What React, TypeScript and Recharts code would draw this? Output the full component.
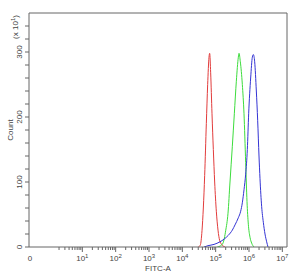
import { LineChart, Line, XAxis, YAxis, ReferenceLine } from "recharts";

// x values are log10 positions on the FITC-A axis, y values are counts (x10)
const redX = [4.48, 4.54, 4.59, 4.63, 4.67, 4.72, 4.76, 4.8, 4.82, 4.85, 4.89, 4.93, 4.97, 5.02, 5.07, 5.12, 5.18, 5.28];
const redY = [0, 3, 25, 60, 110, 190, 250, 292, 298, 268, 205, 150, 100, 55, 26, 10, 4, 0];

const greenX = [5.05, 5.15, 5.22, 5.3, 5.37, 5.43, 5.5, 5.56, 5.62, 5.68, 5.7, 5.74, 5.8, 5.85, 5.9, 5.94, 5.98, 6.03, 6.08, 6.15];
const greenY = [0, 2, 6, 25, 52, 100, 155, 205, 255, 292, 298, 285, 250, 205, 130, 70, 35, 15, 6, 0];

const blueX = [4.65, 4.77, 4.95, 5.13, 5.25, 5.38, 5.5, 5.58, 5.68, 5.75, 5.8, 5.85, 5.9, 5.95, 5.99, 6.05, 6.1, 6.13, 6.17, 6.22, 6.26, 6.3, 6.33, 6.38, 6.43, 6.48, 6.53, 6.57];
const blueY = [0, 2, 4, 8, 12, 18, 26, 34, 45, 55, 68, 88, 112, 150, 205, 260, 292, 296, 285, 240, 195, 140, 105, 62, 38, 20, 8, 0];

const X_MIN = -0.6;
const X_MAX = 7.14;
const xMajor = [1, 2, 3, 4, 5, 6, 7];
const yTicks = [0, 20, 40, 60, 80, 100, 120, 140, 160, 180, 200, 220, 240, 260, 280, 300, 320, 340];

const zip = (xs: number[], ys: number[]) => xs.map((p, i) => ({ p, c: ys[i] }));
const redData = zip(redX, redY);
const greenData = zip(greenX, greenY);
const blueData = zip(blueX, blueY);

// minor log ticks 2..9 in every decade
const xMinor: number[] = [];
for (let d = 0; d < 7; d++) {
  for (let k = 2; k <= 9; k++) xMinor.push(d + Math.log10(k));
}
const xTicks = [X_MIN, ...xMinor, ...xMajor].sort((a, b) => a - b);

const FONT = "'Liberation Sans', Arial, sans-serif";
const INK = "#444";
const AXIS = "#666";

const XTick = (props: any) => {
  const { x, y, payload } = props;
  const v = payload.value;
  const isZero = v === X_MIN;
  const isMajor = xMajor.includes(v);
  return (
    <g>
      {!isZero && (
        <line x1={x} x2={x} y1={y} y2={y + (isMajor ? 5 : 3)} stroke={AXIS} strokeWidth={1} />
      )}
      {isMajor && (
        <text x={x} y={y + 14} textAnchor="middle" fontSize={8} fill={INK} fontFamily={FONT}>
          10
          <tspan dy={-3} fontSize={6}>
            {v}
          </tspan>
        </text>
      )}
      {isZero && (
        <text x={x + 1} y={y + 14} textAnchor="middle" fontSize={8} fill={INK} fontFamily={FONT}>
          0
        </text>
      )}
    </g>
  );
};

const YTick = (props: any) => {
  const { x, y, payload } = props;
  const v = payload.value;
  return (
    <g>
      <line x1={x - 4} x2={x} y1={y} y2={y} stroke={AXIS} strokeWidth={1} />
      {v % 100 === 0 && (
        <text
          transform={`translate(${x - 7},${y}) rotate(-90)`}
          textAnchor="middle"
          fontSize={8}
          fill={INK}
          fontFamily={FONT}
        >
          {v}
        </text>
      )}
    </g>
  );
};

const YLabel = (props: any) => {
  const { x, y, height } = props.viewBox;
  return (
    <g fontFamily={FONT} fill={INK} fontSize={8}>
      <text transform={`translate(${x + 13},${y + height / 2}) rotate(-90)`} textAnchor="middle">
        Count
      </text>
      <text transform={`translate(${x + 18},${y + 14}) rotate(-90)`} textAnchor="middle">
        (x 10
        <tspan dy={-3} fontSize={6}>
          1
        </tspan>
        <tspan dy={3}>)</tspan>
      </text>
    </g>
  );
};

const XLabel = (props: any) => {
  const { x, y, width } = props.viewBox;
  return (
    <text x={x + width / 2} y={y + 24} textAnchor="middle" fontSize={8} fill={INK} fontFamily={FONT}>
      FITC-A
    </text>
  );
};

export default function App() {
  return (
    <div style={{ position: "absolute", left: 0, top: 0, width: 291, height: 275, background: "#fff" }}>
      <LineChart width={291} height={275} margin={{ top: 13, right: 4, bottom: 0, left: 0 }}>
        <XAxis
          dataKey="p"
          type="number"
          domain={[X_MIN, X_MAX]}
          ticks={xTicks}
          interval={0}
          allowDataOverflow
          height={28}
          tickSize={0}
          tickMargin={0}
          tickLine={false}
          axisLine={{ stroke: AXIS }}
          tick={XTick}
          label={{ content: XLabel }}
        />
        <YAxis
          type="number"
          domain={[0, 360]}
          ticks={yTicks}
          interval={0}
          allowDataOverflow
          width={29}
          tickSize={0}
          tickMargin={0}
          tickLine={false}
          axisLine={{ stroke: AXIS }}
          tick={YTick}
          label={{ content: YLabel }}
        />
        <ReferenceLine y={360} stroke={AXIS} />
        <ReferenceLine x={X_MAX} stroke={AXIS} />
        <Line data={redData} dataKey="c" type="monotone" stroke="#e23c3c" strokeWidth={1} dot={false} isAnimationActive={false} />
        <Line data={greenData} dataKey="c" type="monotone" stroke="#3cdc3c" strokeWidth={1} dot={false} isAnimationActive={false} />
        <Line data={blueData} dataKey="c" type="monotone" stroke="#3434d4" strokeWidth={1} dot={false} isAnimationActive={false} />
      </LineChart>
    </div>
  );
}
